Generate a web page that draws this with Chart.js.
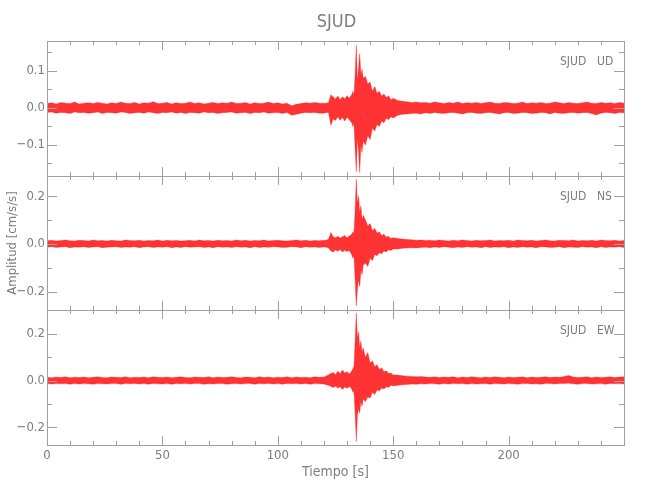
<!DOCTYPE html>
<html>
<head>
<meta charset="UTF-8">
<title>SJUD</title>
<script src="https://cdn.jsdelivr.net/npm/chart.js@4/dist/chart.umd.min.js"></script>
<style>
  html, body { margin: 0; padding: 0; background: #fff; }
</style>
</head>
<body>
<canvas id="chart" width="650" height="500"></canvas>
<script>
// time axis (s): coarse in the quiet parts, finer around the arrival
const T = [
  0,2,4,6,8,10,12,14,16,18, 20,22,24,26,28,30,32,34,36,38,
  40,42,44,46,48,50,52,54,56,58, 60,62,64,66,68,70,72,74,76,78,
  80,82,84,86,88,90,92,94,96,98, 100,102,104,106,108,110,112,114,116,118, 120,
  121,122,123,124,125,126,127,128,129,130,131,132,
  132.5,133,133.5,134,134.5,135,135.5,136,136.5,137,
  138,139,140,141,142,143,144,145,146,147,148,149,150,
  152,154,156,158,160,162,164,166,168,170, 172,174,176,178,180,182,184,186,188,190,
  192,194,196,198,200,202,204,206,208,210, 212,214,216,218,220,222,224,226,228,230,
  232,234,236,238,240,242,244,246,248, 250
];

// UD component: upper / lower envelope (cm/s/s)
const udUpper = [
  0.012,0.014,0.011,0.015,0.013,0.012,0.016,0.011,0.013,0.014,
  0.012,0.015,0.013,0.011,0.014,0.012,0.016,0.013,0.012,0.015,
  0.011,0.014,0.013,0.017,0.012,0.013,0.015,0.011,0.014,0.012,
  0.013,0.016,0.012,0.014,0.011,0.013,0.015,0.012,0.014,0.013,
  0.016,0.012,0.013,0.015,0.011,0.014,0.012,0.013,0.016,0.012,
  0.014,0.011,0.013,0.006,0.010,0.012,0.014,0.013,0.015,0.013,
  0.013,
  0.013,0.015,0.036,0.030,0.024,0.032,0.022,0.030,0.025,0.033,0.026,0.036,
  0.045,0.035,0.090,0.170,0.070,0.110,0.147,0.090,0.105,0.080,
  0.085,0.065,0.070,0.045,0.058,0.040,0.045,0.032,0.038,0.028,0.033,0.022,0.026,
  0.020,0.018,0.017,0.015,0.016,0.014,0.015,0.013,0.016,0.014,
  0.012,0.015,0.013,0.016,0.012,0.014,0.013,0.015,0.012,0.014,
  0.016,0.013,0.012,0.015,0.014,0.012,0.013,0.016,0.012,0.014,
  0.013,0.015,0.012,0.013,0.016,0.014,0.012,0.015,0.013,0.012,
  0.014,0.016,0.013,0.012,0.015,0.013,0.014,0.012,0.015,0.013
];
const udLower = [
  -0.012,-0.011,-0.014,-0.012,-0.013,-0.015,-0.011,-0.013,-0.012,-0.014,
  -0.013,-0.011,-0.015,-0.012,-0.013,-0.014,-0.011,-0.012,-0.015,-0.013,
  -0.012,-0.014,-0.011,-0.013,-0.015,-0.012,-0.013,-0.011,-0.014,-0.012,
  -0.015,-0.012,-0.013,-0.014,-0.011,-0.013,-0.012,-0.015,-0.013,-0.012,
  -0.011,-0.014,-0.013,-0.012,-0.015,-0.012,-0.013,-0.011,-0.014,-0.013,
  -0.012,-0.015,-0.012,-0.020,-0.017,-0.014,-0.012,-0.013,-0.012,-0.014,
  -0.014,
  -0.012,-0.013,-0.047,-0.030,-0.034,-0.024,-0.033,-0.026,-0.035,-0.025,-0.032,-0.040,
  -0.050,-0.040,-0.110,-0.173,-0.080,-0.120,-0.175,-0.100,-0.120,-0.090,
  -0.100,-0.075,-0.085,-0.055,-0.062,-0.045,-0.050,-0.035,-0.040,-0.028,-0.032,-0.024,-0.027,
  -0.020,-0.017,-0.016,-0.015,-0.014,-0.016,-0.013,-0.015,-0.012,-0.014,
  -0.015,-0.013,-0.012,-0.014,-0.016,-0.013,-0.012,-0.014,-0.015,-0.013,
  -0.012,-0.014,-0.016,-0.013,-0.012,-0.015,-0.014,-0.012,-0.013,-0.015,
  -0.014,-0.012,-0.013,-0.016,-0.012,-0.014,-0.015,-0.013,-0.012,-0.014,
  -0.013,-0.012,-0.015,-0.019,-0.014,-0.012,-0.013,-0.015,-0.012,-0.013
];

// NS component
const nsUpper = [
  0.013,0.015,0.012,0.014,0.016,0.013,0.012,0.015,0.014,0.012,
  0.016,0.013,0.014,0.012,0.015,0.013,0.012,0.016,0.014,0.013,
  0.015,0.012,0.014,0.013,0.016,0.012,0.015,0.013,0.014,0.012,
  0.013,0.015,0.012,0.016,0.013,0.014,0.012,0.015,0.013,0.014,
  0.012,0.016,0.013,0.015,0.012,0.014,0.013,0.016,0.012,0.014,
  0.015,0.013,0.012,0.014,0.016,0.013,0.015,0.012,0.014,0.013,
  0.015,
  0.015,0.020,0.048,0.030,0.026,0.032,0.024,0.030,0.035,0.026,0.033,0.040,
  0.050,0.045,0.140,0.272,0.170,0.200,0.130,0.160,0.100,0.120,
  0.100,0.075,0.085,0.055,0.065,0.045,0.050,0.035,0.040,0.028,0.032,0.022,0.026,
  0.022,0.020,0.018,0.017,0.015,0.016,0.014,0.015,0.013,0.016,
  0.014,0.012,0.015,0.013,0.016,0.014,0.012,0.015,0.013,0.014,
  0.016,0.012,0.014,0.013,0.015,0.012,0.016,0.014,0.013,0.015,
  0.012,0.014,0.016,0.013,0.012,0.015,0.014,0.013,0.016,0.012,
  0.014,0.013,0.015,0.012,0.016,0.014,0.013,0.015,0.012,0.014
];
const nsLower = [
  -0.014,-0.012,-0.015,-0.013,-0.012,-0.016,-0.013,-0.014,-0.012,-0.015,
  -0.013,-0.012,-0.016,-0.014,-0.013,-0.012,-0.015,-0.013,-0.014,-0.012,
  -0.016,-0.013,-0.012,-0.015,-0.013,-0.014,-0.012,-0.016,-0.013,-0.015,
  -0.012,-0.014,-0.013,-0.012,-0.015,-0.013,-0.016,-0.012,-0.014,-0.013,
  -0.015,-0.012,-0.014,-0.013,-0.016,-0.012,-0.015,-0.013,-0.014,-0.012,
  -0.013,-0.015,-0.014,-0.012,-0.013,-0.016,-0.012,-0.014,-0.013,-0.015,
  -0.013,
  -0.014,-0.018,-0.030,-0.034,-0.026,-0.031,-0.024,-0.034,-0.027,-0.032,-0.028,-0.045,
  -0.060,-0.050,-0.150,-0.261,-0.190,-0.150,-0.180,-0.110,-0.130,-0.090,
  -0.080,-0.095,-0.060,-0.070,-0.045,-0.050,-0.037,-0.042,-0.030,-0.034,-0.025,-0.028,-0.022,
  -0.022,-0.019,-0.018,-0.016,-0.017,-0.015,-0.014,-0.016,-0.013,-0.015,
  -0.012,-0.014,-0.016,-0.013,-0.015,-0.012,-0.014,-0.013,-0.016,-0.012,
  -0.015,-0.013,-0.014,-0.012,-0.016,-0.013,-0.015,-0.012,-0.014,-0.013,
  -0.016,-0.012,-0.013,-0.015,-0.014,-0.012,-0.016,-0.013,-0.014,-0.015,
  -0.012,-0.014,-0.013,-0.016,-0.012,-0.015,-0.013,-0.014,-0.012,-0.015
];

// EW component
const ewUpper = [
  0.014,0.012,0.015,0.013,0.016,0.012,0.014,0.013,0.015,0.012,
  0.014,0.016,0.013,0.012,0.015,0.014,0.013,0.016,0.012,0.014,
  0.013,0.015,0.012,0.016,0.014,0.013,0.015,0.012,0.014,0.016,
  0.013,0.012,0.015,0.014,0.013,0.016,0.012,0.015,0.013,0.014,
  0.016,0.013,0.012,0.015,0.014,0.012,0.016,0.013,0.015,0.012,
  0.014,0.013,0.016,0.012,0.015,0.013,0.014,0.012,0.016,0.014,
  0.015,
  0.020,0.025,0.030,0.035,0.026,0.040,0.030,0.045,0.032,0.038,0.028,0.040,
  0.050,0.060,0.170,0.291,0.180,0.210,0.140,0.170,0.120,0.140,
  0.100,0.120,0.075,0.085,0.060,0.068,0.048,0.055,0.038,0.042,0.030,0.033,0.024,
  0.024,0.021,0.019,0.018,0.016,0.017,0.015,0.014,0.016,0.013,
  0.015,0.014,0.016,0.012,0.015,0.013,0.016,0.014,0.012,0.015,
  0.013,0.016,0.014,0.012,0.015,0.013,0.014,0.016,0.012,0.015,
  0.013,0.014,0.016,0.013,0.015,0.014,0.017,0.022,0.015,0.013,
  0.014,0.016,0.012,0.015,0.013,0.014,0.016,0.013,0.015,0.016
];
const ewLower = [
  -0.013,-0.015,-0.012,-0.014,-0.013,-0.016,-0.012,-0.015,-0.013,-0.014,
  -0.016,-0.012,-0.014,-0.015,-0.013,-0.012,-0.016,-0.013,-0.014,-0.012,
  -0.015,-0.013,-0.016,-0.012,-0.014,-0.015,-0.013,-0.016,-0.012,-0.014,
  -0.013,-0.015,-0.012,-0.013,-0.016,-0.014,-0.015,-0.012,-0.013,-0.016,
  -0.014,-0.012,-0.015,-0.013,-0.012,-0.016,-0.013,-0.014,-0.012,-0.015,
  -0.013,-0.016,-0.012,-0.014,-0.013,-0.015,-0.012,-0.016,-0.013,-0.014,
  -0.015,
  -0.018,-0.020,-0.025,-0.030,-0.024,-0.032,-0.026,-0.038,-0.027,-0.033,-0.025,-0.035,
  -0.050,-0.045,-0.140,-0.261,-0.150,-0.120,-0.140,-0.090,-0.110,-0.080,
  -0.090,-0.070,-0.075,-0.050,-0.060,-0.040,-0.045,-0.032,-0.036,-0.026,-0.030,-0.020,-0.023,
  -0.020,-0.018,-0.017,-0.015,-0.016,-0.014,-0.015,-0.013,-0.014,-0.016,
  -0.012,-0.015,-0.013,-0.014,-0.012,-0.016,-0.013,-0.015,-0.014,-0.012,
  -0.016,-0.013,-0.014,-0.015,-0.012,-0.014,-0.016,-0.013,-0.012,-0.015,
  -0.014,-0.016,-0.012,-0.013,-0.015,-0.012,-0.013,-0.011,-0.014,-0.016,
  -0.013,-0.012,-0.015,-0.014,-0.013,-0.016,-0.012,-0.014,-0.013,-0.015
];

// ticks and labels
const timeTicks = [0,10,20,30,40,50,60,70,80,90,100,110,120,130,140,150,160,170,180,190,200,210,220,230,240,250];
const timeLabels = [0,50,100,150,200];
const udTicks = [-0.15,-0.1,-0.05,0,0.05,0.1,0.15];
const udLabels = [-0.1,0,0.1];
const hzTicks = [-0.2,-0.1,0,0.1,0.2];
const hzLabels = [-0.2,0,0.2];

const station = 'SJUD';
const xTitle = 'Tiempo [s]';
const yTitle = 'Amplitud [cm/s/s]';

const FONT = "'Liberation Sans Narrow', 'DejaVu Sans Condensed', sans-serif";
const INK = '#7d7d7d';
const FRAME = '#a0a0a0';
const RED = 'rgba(255,0,0,0.6)';
const FILL = 'rgba(255,0,0,0.8)';

// listed bottom to top: Chart.js stacks the last left axis on top
const panels = [
  { id: 'yEW', comp: 'EW', up: ewUpper, low: ewLower, min: -0.276, max: 0.301, ticks: hzTicks, labels: hzLabels },
  { id: 'yNS', comp: 'NS', up: nsUpper, low: nsLower, min: -0.279, max: 0.286, ticks: hzTicks, labels: hzLabels },
  { id: 'yUD', comp: 'UD', up: udUpper, low: udLower, min: -0.183, max: 0.181, ticks: udTicks, labels: udLabels }
];

function fmt(v) {
  if (v === 0) return '0.0';
  return (v < 0 ? '\u2212' : '') + Math.abs(v).toFixed(1);
}

const scales = {
  x: {
    type: 'linear', min: 0, max: 250,
    afterBuildTicks: s => { s.ticks = timeTicks.map(v => ({ value: v })); },
    afterFit: s => { s.height = 55; },
    grid: { display: false, drawTicks: false },
    border: { display: false },
    ticks: {
      autoSkip: false, maxRotation: 0, padding: 3, color: INK,
      font: { family: FONT, size: 13 },
      callback: v => timeLabels.includes(v) ? String(v) : ''
    }
  }
};

const datasets = [];
panels.forEach(p => {
  scales[p.id] = {
    type: 'linear', position: 'left', stack: 'traces', stackWeight: 1,
    min: p.min, max: p.max,
    afterBuildTicks: s => { s.ticks = p.ticks.map(v => ({ value: v })); },
    afterFit: s => { s.width = 47; },
    grid: { display: false, drawTicks: false },
    border: { display: false },
    ticks: {
      autoSkip: false, padding: 2, color: INK,
      font: { family: FONT, size: 13 },
      callback: v => p.labels.includes(v) ? fmt(v) : ''
    }
  };
  datasets.push({
    data: T.map((t, i) => ({ x: t, y: p.up[i] })),
    yAxisID: p.id, borderColor: RED, borderWidth: 0.5, pointRadius: 0, fill: false
  });
  datasets.push({
    data: T.map((t, i) => ({ x: t, y: p.low[i] })),
    yAxisID: p.id, borderColor: RED, borderWidth: 0.5, pointRadius: 0,
    fill: '-1', backgroundColor: FILL
  });
});

// IDL-style frame: boxed panels, inward ticks, station labels and titles
const frame = {
  id: 'frame',
  afterDraw(chart) {
    const ctx = chart.ctx;
    const xs = chart.scales.x;
    const { left, right, top, bottom } = chart.chartArea;
    ctx.save();
    ctx.strokeStyle = FRAME;
    ctx.lineWidth = 1;
    panels.forEach(p => {
      const ys = chart.scales[p.id];
      const pt = Math.round(ys.top), pb = Math.round(ys.bottom);
      ctx.strokeRect(Math.round(left) + 0.5, pt + 0.5, Math.round(right - left), pb - pt);
      ctx.beginPath();
      ys.ticks.forEach(t => {
        const y = Math.round(ys.getPixelForValue(t.value)) + 0.5;
        const len = t.label ? 10 : 5;
        ctx.moveTo(left, y); ctx.lineTo(left + len, y);
        ctx.moveTo(right, y); ctx.lineTo(right - len, y);
      });
      xs.ticks.forEach(t => {
        const x = Math.round(xs.getPixelForValue(t.value)) + 0.5;
        const len = t.label ? 9 : 4;
        ctx.moveTo(x, pt); ctx.lineTo(x, pt + len);
        ctx.moveTo(x, pb); ctx.lineTo(x, pb - len);
      });
      ctx.stroke();

      ctx.fillStyle = INK;
      ctx.font = '12px ' + FONT;
      ctx.textAlign = 'left';
      ctx.textBaseline = 'middle';
      ctx.fillText(station, right - 64, pt + 21);
      ctx.fillText(p.comp, right - 27, pt + 21);
    });

    ctx.fillStyle = INK;
    ctx.textAlign = 'center';
    ctx.textBaseline = 'middle';
    ctx.font = '18px ' + FONT;
    ctx.fillText(station, (left + right) / 2 + 1, 22);
    ctx.font = '14px ' + FONT;
    ctx.fillText(xTitle, (left + right) / 2, 472);
    ctx.font = '13px ' + FONT;
    ctx.translate(13, (top + bottom) / 2);
    ctx.rotate(-Math.PI / 2);
    ctx.fillText(yTitle, 0, 0);
    ctx.restore();
  }
};

new Chart(document.getElementById('chart'), {
  type: 'line',
  data: { datasets },
  options: {
    responsive: false,
    animation: false,
    layout: { padding: { top: 41, right: 26, left: 0, bottom: 0 } },
    plugins: { legend: { display: false }, tooltip: { enabled: false }, title: { display: false } },
    elements: { line: { tension: 0 } },
    scales
  },
  plugins: [frame]
});
</script>
</body>
</html>
